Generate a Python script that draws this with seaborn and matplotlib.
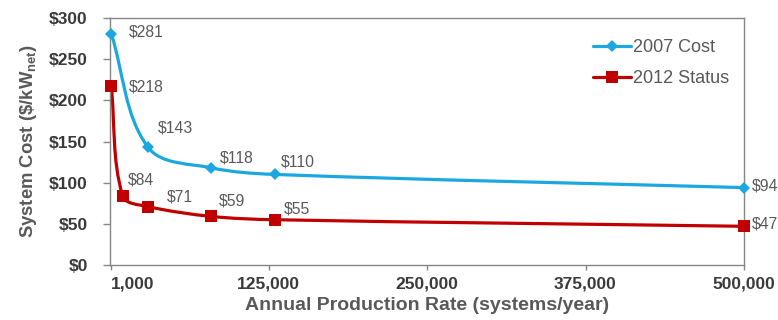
import numpy as np
import matplotlib
matplotlib.use("Agg")
import matplotlib.pyplot as plt
import seaborn as sns
from matplotlib.path import Path
from matplotlib.patches import PathPatch
from matplotlib.lines import Line2D

# ---- data ----
x_2007 = [1000, 30000, 80000, 130000, 500000]
cost_2007 = [281, 143, 118, 110, 94]
x_2012 = [1000, 10000, 30000, 80000, 130000, 500000]
cost_2012 = [218, 84, 71, 59, 55, 47]
series_names = ["2007 Cost", "2012 Status"]
x_ticks = [1000, 125000, 250000, 375000, 500000]
x_tick_labels = ["1,000", "125,000", "250,000", "375,000", "500,000"]
y_ticks = [0, 50, 100, 150, 200, 250, 300]

# label offsets (pixels) for data labels
off_2007 = [(18, 2), (10, 19), (8, 10), (6, 12), (8, 2)]
off_2012 = [(18, -1), (5, 16), (19, 10), (7, 15), (9, 11), (8, 2)]

BLUE = "#1CA7E0"
RED = "#C00000"
TICK_C = "#3A3A3A"
LAB_C = "#595959"

sns.set_theme(style="white")
plt.rcParams["font.family"] = ["Liberation Sans", "DejaVu Sans"]
plt.rcParams["mathtext.default"] = "regular"

fig = plt.figure(figsize=(7.78, 3.2), dpi=100)
ax = fig.add_axes([110 / 778, 1 - 265 / 320, (744 - 110) / 778, (265 - 18) / 320])
ax.set_xlim(0, 500000)
ax.set_ylim(0, 300)


def smooth_path(ax, xs, ys):
    pts = ax.transData.transform(np.column_stack([xs, ys]))
    n = len(pts)
    verts = [pts[0]]
    codes = [Path.MOVETO]
    for i in range(n - 1):
        p0 = pts[i - 1] if i > 0 else pts[i]
        p1 = pts[i]
        p2 = pts[i + 1]
        p3 = pts[i + 2] if i + 2 < n else pts[i + 1]
        L = np.hypot(*(p2 - p1))
        d1 = p2 - p0
        d1 = d1 / np.hypot(*d1)
        d2 = p3 - p1
        d2 = d2 / np.hypot(*d2)
        verts += [p1 + d1 * L / 3, p2 - d2 * L / 3, p2]
        codes += [Path.CURVE4] * 3
    verts = ax.transData.inverted().transform(np.array(verts))
    return Path(verts, codes)


for xs, ys, col in [(x_2007, cost_2007, BLUE), (x_2012, cost_2012, RED)]:
    ax.add_patch(PathPatch(smooth_path(ax, xs, ys), facecolor="none",
                           edgecolor=col, lw=2.3, zorder=2, capstyle="round",
                           joinstyle="round"))

sns.lineplot(x=x_2007, y=cost_2007, ax=ax, color=BLUE, linestyle="",
             marker="D", markersize=6.5, markeredgewidth=0, zorder=3, clip_on=False)
sns.lineplot(x=x_2012, y=cost_2012, ax=ax, color=RED, linestyle="",
             marker="s", markersize=9, markeredgewidth=0, zorder=3, clip_on=False)

for xs, ys, offs in [(x_2007, cost_2007, off_2007), (x_2012, cost_2012, off_2012)]:
    for xv, yv, (dx, dy) in zip(xs, ys, offs):
        ax.annotate(f"\\${yv}", (xv, yv), xytext=(dx, dy), textcoords="offset pixels",
                    ha="left", va="center", fontsize=11.3, color=LAB_C,
                    annotation_clip=False)

ax.set_xticks(x_ticks, x_tick_labels)
ax.set_yticks(y_ticks, [f"\\${v}" for v in y_ticks])
xl = ax.get_xticklabels()
xl[0].set_horizontalalignment("left")
ax.tick_params(axis="x", bottom=True, length=3.6, width=1, color="#868686",
               pad=5, labelsize=12.5, labelcolor=TICK_C)
ax.tick_params(axis="y", left=True, length=5, width=1, color="#868686",
               pad=11, labelsize=12.5, labelcolor=TICK_C)
for lab in ax.get_xticklabels() + ax.get_yticklabels():
    lab.set_fontweight("bold")

for s in ax.spines.values():
    s.set_color("#868686")
    s.set_linewidth(1)

ax.set_xlabel("Annual Production Rate (systems/year)", fontsize=14,
              fontweight="bold", color=LAB_C, labelpad=4)
ax.set_ylabel("System Cost (\\$/kW$_{net}$)", fontsize=13.3,
              fontweight="bold", color=LAB_C, labelpad=7)

handles = [
    Line2D([], [], color=BLUE, lw=2.3, marker="D", markersize=6.5, markeredgewidth=0),
    Line2D([], [], color=RED, lw=2.3, marker="s", markersize=9, markeredgewidth=0),
]
leg = ax.legend(handles, series_names, loc="upper left",
                bbox_to_anchor=((593 - 110) / 634, 1 - (39 - 18) / 247),
                frameon=False, fontsize=13, handlelength=2.1,
                handletextpad=0.1, borderpad=0, borderaxespad=0,
                labelspacing=0.8)
for t in leg.get_texts():
    t.set_color(LAB_C)

fig.savefig("out.png", dpi=100)
